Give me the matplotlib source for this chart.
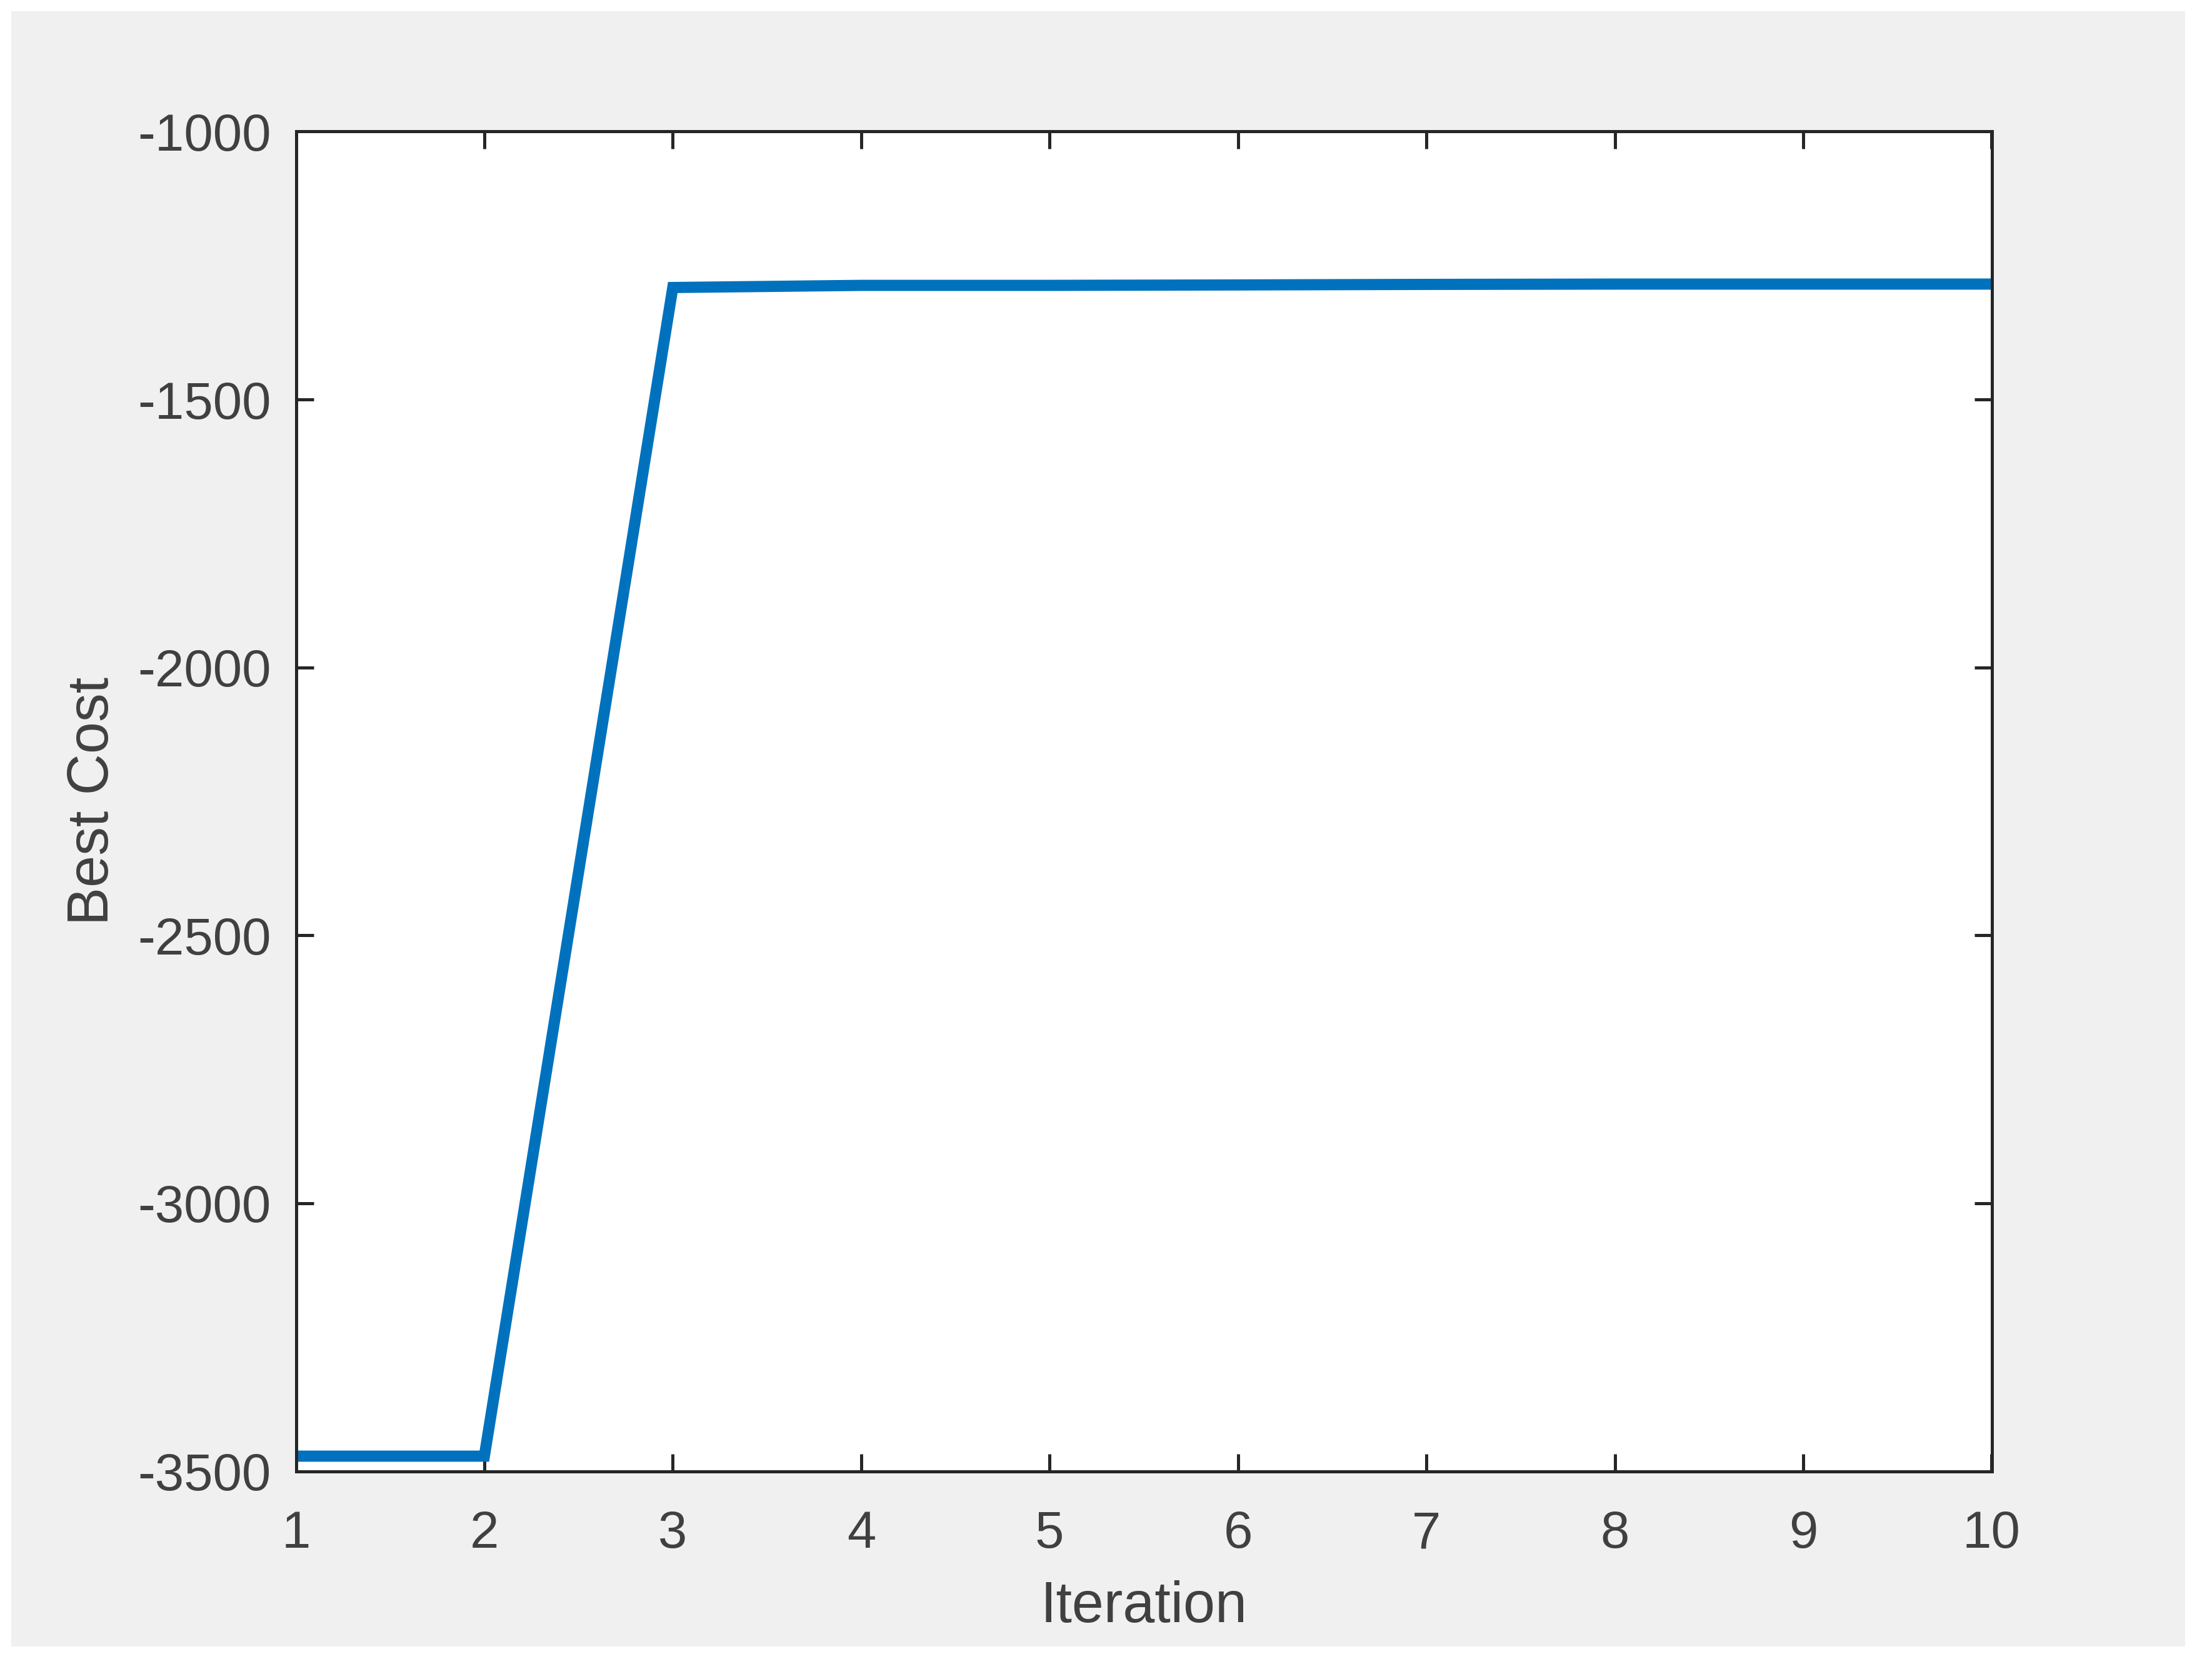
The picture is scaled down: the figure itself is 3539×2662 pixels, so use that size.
import numpy as np
import matplotlib.pyplot as plt
from matplotlib.patches import Rectangle

# best cost per iteration
iterations = [1, 2, 3, 4, 5, 6, 7, 8, 9, 10]
best_cost = [-3472, -3472, -1291, -1287, -1287, -1286.2, -1285.2, -1284.6, -1284.6, -1284.6]

x_ticks = list(range(1, 11))
y_ticks = [-3500, -3000, -2500, -2000, -1500, -1000]

plt.rcParams['font.family'] = ['Liberation Sans', 'DejaVu Sans']
plt.rcParams['axes.unicode_minus'] = False

W, H = 3539, 2662
dpi = 300
fig = plt.figure(figsize=(W / dpi, H / dpi), dpi=dpi, facecolor='white')

# grey figure panel like a MATLAB window (kept behind the axes)
fig.patches.append(Rectangle((18 / W, 1 - 2634 / H), (3496 - 18) / W, (2634 - 18) / H,
                             transform=fig.transFigure, facecolor='#f0f0f0',
                             edgecolor='none', zorder=-10))

left, right, top, bottom = 473.5, 3186.5, 210.5, 2353.5
ax = fig.add_axes([left / W, 1 - bottom / H, (right - left) / W, (bottom - top) / H])
ax.set_facecolor('white')

ax.plot(iterations, best_cost, color='#0072BD', linewidth=4.3, solid_joinstyle='miter')

ax.set_xlim(1, 10)
ax.set_ylim(-3500, -1000)
ax.set_xticks(x_ticks)
ax.set_yticks(y_ticks)

axis_color = '#262626'
text_color = '#404040'
for s in ax.spines.values():
    s.set_color(axis_color)
    s.set_linewidth(1.2)

ax.tick_params(direction='in', length=6.8, width=1.2, color=axis_color,
               top=True, right=True, labelsize=20, labelcolor=text_color)
ax.tick_params(axis='x', pad=14.8)
ax.tick_params(axis='y', pad=9.6)

ax.set_xlabel('Iteration', fontsize=22, color=text_color)
ax.set_ylabel('Best Cost', fontsize=22, color=text_color)
ax.xaxis.set_label_coords(0.5, -0.0815)
ax.yaxis.set_label_coords(-0.1037, 0.5)

fig.savefig('out.png', dpi=dpi, facecolor=fig.get_facecolor())
